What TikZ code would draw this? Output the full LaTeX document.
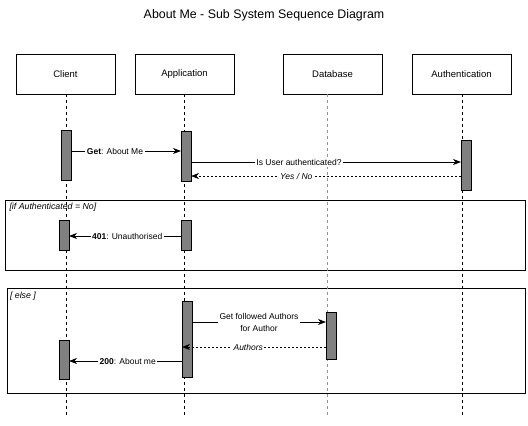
\documentclass[tikz,border=0pt]{standalone}
\usepackage{fontspec}
\setmainfont{Liberation Sans}
\usetikzlibrary{arrows.meta}
\begin{document}
\begin{tikzpicture}[x=1bp,y=-1bp,
  every node/.style={inner sep=0pt,outer sep=0pt},
  actor/.style={draw,line width=0.8bp,minimum width=99bp,minimum height=40bp,font=\fontsize{9.5bp}{11bp}\selectfont},
  life/.style={line width=0.8bp,dash pattern=on 3bp off 3bp},
  act/.style={draw,fill=gray,line width=0.8bp,minimum width=10bp},
  msg/.style={line width=0.8bp,-{Stealth[length=8bp,width=6bp,inset=2.5bp]}},
  ret/.style={line width=0.6bp,dash pattern=on 2bp off 2bp,-{Stealth[length=8bp,width=6bp,inset=2.5bp]}},
  lbl/.style={fill=white,inner sep=1.5bp,font=\fontsize{8.5bp}{12bp}\selectfont,align=center},
  ilbl/.style={lbl,font=\fontsize{8.5bp}{12bp}\selectfont\itshape},
  frame/.style={draw,line width=0.8bp},
  flbl/.style={anchor=north west,font=\fontsize{8.8bp}{10bp}\selectfont\itshape}]
\useasboundingbox (0,0) rectangle (528,425);
\node[font=\fontsize{12.4bp}{14bp}\selectfont] (title) at (264,15) {About Me - Sub System Sequence Diagram};
% actors
\node[actor] (client) at (65.5,74) {Client};
\node[actor] (app) at (184.5,74) {Application};
\node[actor] (db) at (332.5,74) {Database};
\node[actor] (auth) at (461.5,74) {Authentication};
\coordinate (clientEnd) at (66,415);
\coordinate (appEnd) at (184,415);
\coordinate (dbEnd) at (327,415);
\coordinate (authEnd) at (462,415);
% frames
\node[frame,minimum width=520bp,minimum height=70bp] (f1) at (265,235) {};
\node[frame,minimum width=518bp,minimum height=105bp] (f2) at (266,340.5) {};
\node[flbl] (f1l) at (9.5,203) {[if Authenticated = No]};
\node[flbl] (f2l) at (10,292) {[ else ]};
% lifelines
\draw[life] (client.south -| clientEnd) -- (clientEnd);
\draw[life] (app.south -| appEnd) -- (appEnd);
\draw[life,draw=gray!85] (db.south -| dbEnd) -- (dbEnd);
\draw[life] (auth.south -| authEnd) -- (authEnd);
% activations
\node[act,minimum height=50bp] (c1) at (66,155) {};
\node[act,minimum height=50bp] (a1) at (186,156) {};
\node[act,minimum height=50bp] (u1) at (466,165) {};
\node[act,minimum height=30bp] (c2) at (64,235) {};
\node[act,minimum height=30bp] (a2) at (186,235) {};
\node[act,minimum height=76bp] (a3) at (187,339) {};
\node[act,minimum height=39bp] (c3) at (64,359.5) {};
\node[act,minimum height=47bp] (d1) at (331,335.5) {};
% messages
\draw[msg] (c1.east |- 0,151) -- node[lbl,pos=0.4] (m1) {\textbf{Get}: About Me} (a1.west |- 0,151);
\draw[msg] (a1.east |- 0,162) -- node[lbl,pos=0.4] (m2) {Is User authenticated?} (u1.west |- 0,162);
\draw[ret] (u1.west |- 0,176) -- node[ilbl,pos=0.61] (m3) {Yes / No} (a1.east |- 0,176);
\draw[msg] (a2.west |- 0,236) -- node[lbl,pos=0.48] (m4) {\textbf{401}: Unauthorised} (c2.east |- 0,236);
\draw[msg] (a3.east |- 0,322) -- node[lbl,pos=0.5] (m5) {Get followed Authors\\for Author} (d1.west |- 0,322);
\draw[ret] (d1.west |- 0,347) -- node[ilbl,pos=0.54] (m6) {Authors} (a3.west |- 0,347);
\draw[msg] (a3.west |- 0,361) -- node[lbl,pos=0.48] (m7) {\textbf{200}: About me} (c3.east |- 0,361);
\end{tikzpicture}
\end{document}
